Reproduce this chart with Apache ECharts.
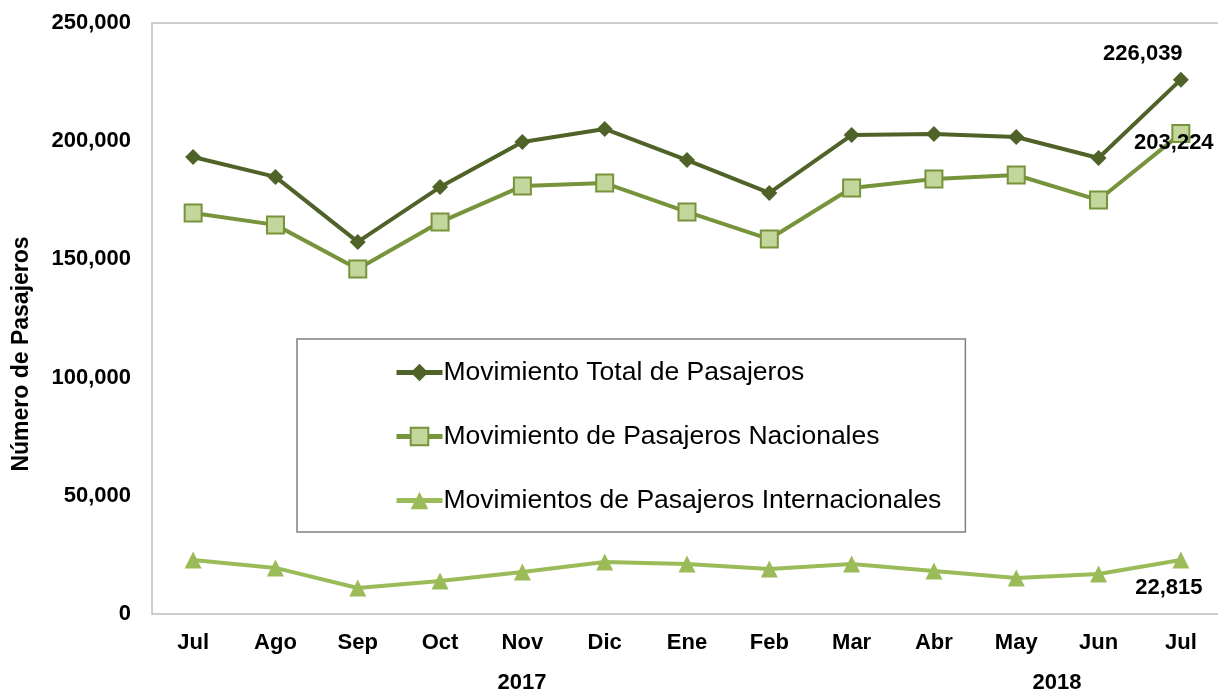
<!DOCTYPE html>
<html>
<head>
<meta charset="utf-8">
<script src="https://cdn.jsdelivr.net/npm/echarts@6/dist/echarts.min.js"></script>
<style>
html,body{margin:0;padding:0;background:#fff;}
#chart{width:1218px;height:692px;}
</style>
</head>
<body>
<div id="chart"></div>
<script>
// meses jul 2017 - jul 2018
var meses = ['Jul','Ago','Sep','Oct','Nov','Dic','Ene','Feb','Mar','Abr','May','Jun','Jul'];
var total = [193300,184900,157400,180600,199700,205200,192000,178100,202600,203000,201800,192900,226039];
var nacionales = [169600,164600,145900,165800,181000,182300,170100,158600,180200,184000,185700,175100,203224];
var internacionales = [22800,19500,11000,14000,17800,22000,21200,19000,21200,18200,15200,16900,22815];
var yTicks = [0,50000,100000,150000,200000,250000];
var anios = ['2017','2018'];

var chart = echarts.init(document.getElementById('chart'));
var fmt = function(v){ return echarts.format.addCommas(v); };
var fuente = 'Liberation Sans';
var lastLabel = function(pos, dx, dy){   // solo se etiqueta el ultimo punto
	return {
		show:true,
		position:pos,
		offset:[dx,dy],
		fontFamily:fuente,
		fontWeight:'bold',
		fontSize:22,
		color:'#000',
		formatter:function(p){
			return p.dataIndex == meses.length - 1 ? fmt(p.value) : '';
		}
	};
};

chart.setOption({
	animation:false,
	grid:{
		left:152,
		top:23,
		bottom:78,
		width:1070,
		outerBoundsMode:'none',
		show:true,
		borderColor:'#bfbfbf',
		borderWidth:1.5
	},
	legend:{
		orient:'vertical',
		left:297,
		top:339,
		padding:[20,24,18,97],
		itemGap:37,
		itemWidth:46,
		itemHeight:22,
		borderColor:'#808080',
		borderWidth:1.5,
		lineStyle:{width:5},
		textStyle:{fontFamily:fuente,fontSize:26.5,color:'#000',padding:[0,0,0,-4]},
		data:['Movimiento Total de Pasajeros','Movimiento de Pasajeros Nacionales','Movimientos de Pasajeros Internacionales']
	},
	xAxis:{
		type:'category',
		data:meses,
		boundaryGap:true,
		axisLine:{show:false},
		axisTick:{show:false},
		axisLabel:{
			margin:18,
			fontFamily:fuente,
			fontWeight:'bold',
			fontSize:22,
			color:'#000'
		}
	},
	yAxis:{
		type:'value',
		min:yTicks[0],
		max:yTicks[yTicks.length-1],
		interval:50000,
		axisLine:{show:false},
		axisTick:{show:false},
		splitLine:{show:false},
		axisLabel:{
			margin:21,
			fontFamily:fuente,
			fontWeight:'bold',
			fontSize:22,
			color:'#000',
			formatter:fmt
		}
	},
	graphic:[
		{type:'text',x:22,y:354,rotation:Math.PI/2,style:{text:'Número de Pasajeros',fontFamily:fuente,fontWeight:'bold',fontSize:23,fill:'#000',align:'center',verticalAlign:'middle'}},
		{type:'text',x:522,y:683,style:{text:anios[0],fontFamily:fuente,fontWeight:'bold',fontSize:22,fill:'#000',align:'center',verticalAlign:'middle'}},
		{type:'text',x:1057,y:683,style:{text:anios[1],fontFamily:fuente,fontWeight:'bold',fontSize:22,fill:'#000',align:'center',verticalAlign:'middle'}}
	],
	series:[{
		name:'Movimiento Total de Pasajeros',
		type:'line',
		data:total,
		symbol:'diamond',
		symbolSize:16,
		lineStyle:{color:'#4f6228',width:4},
		itemStyle:{color:'#4f6228'},
		label:lastLabel('top',-38,-2),
		z:3
	},{
		name:'Movimiento de Pasajeros Nacionales',
		type:'line',
		data:nacionales,
		symbol:'rect',
		symbolSize:17,
		lineStyle:{color:'#77933c',width:4},
		itemStyle:{color:'#c3d69b',borderColor:'#77933c',borderWidth:2},
		label:lastLabel('inside',-7,9),
		z:2
	},{
		name:'Movimientos de Pasajeros Internacionales',
		type:'line',
		data:internacionales,
		symbol:'triangle',
		symbolSize:17,
		lineStyle:{color:'#9bbb59',width:4},
		itemStyle:{color:'#9bbb59'},
		label:lastLabel('bottom',-12,3),
		z:1
	}]
});
</script>
</body>
</html>
